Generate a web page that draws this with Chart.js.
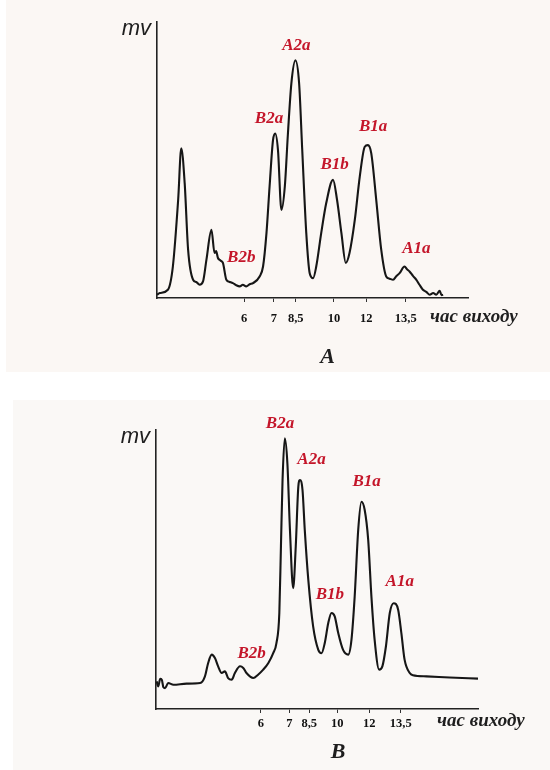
<!DOCTYPE html>
<html>
<head>
<meta charset="utf-8">
<script src="https://cdn.jsdelivr.net/npm/chart.js"></script>
<style>
  body { margin: 0; background: #fff; width: 550px; height: 770px; position: relative; overflow: hidden; }
  .panel { position: absolute; }
  #panelA { left: 6px; top: 0; width: 544px; height: 372px; background: #fbf7f4; }
  #panelB { left: 13px; top: 400px; width: 537px; height: 370px; background: #faf8f6; }
</style>
</head>
<body>
<div class="panel" id="panelA"><canvas id="chartA" width="544" height="372"></canvas></div>
<div class="panel" id="panelB"><canvas id="chartB" width="537" height="370"></canvas></div>
<script>
// tick labels (retention time, min) and where they sit along the axis (0..100)
const tickLabels = ['6', '7', '8,5', '10', '12', '13,5'];
const tickPosA = [28.0, 37.6, 44.6, 56.9, 67.3, 80.0];
const tickPosB = [32.6, 41.4, 47.6, 56.3, 66.2, 76.0];

// chromatogram A
const timeA = [0, 0.9, 3.5, 5.1, 6.8, 7.8, 8.9, 10.0, 11.6, 12.6, 13.7, 14.8, 15.9, 17.5, 18.5, 19.0, 19.6, 20.4, 21.2, 22.3,
  23.4, 24.4, 25.5, 26.6, 27.6, 28.7, 29.8, 30.9, 33.0, 34.1, 35.2, 36.2, 37.3, 38.0, 38.9, 40.0, 41.1, 42.1, 43.2, 44.5,
  45.7, 46.7, 48.0, 49.1, 50.2, 51.2, 52.8, 54.4, 56.6, 57.9, 59.3, 60.7, 61.9, 63.6, 65.2, 66.8, 67.8, 68.9, 70.5, 72.1,
  73.7, 74.8, 75.9, 77.0, 78.0, 79.6, 80.4, 81.2, 82.3, 83.4, 84.4, 85.5, 86.6, 87.7, 88.8, 89.8, 90.9, 91.5, 92.0];
const signalA = [1.2, 1.8, 3.0, 11.4, 35.5, 54.2, 41.6, 17.5, 6.6, 5.8, 4.8, 6.0, 13.9, 24.7, 16.3, 17.0, 14.5, 13.6, 12.7, 6.6,
  5.8, 5.4, 4.6, 4.2, 4.8, 4.2, 5.0, 5.4, 7.8, 11.4, 23.5, 40.4, 57.2, 59.6, 53.6, 31.9, 40.4, 59.6, 77.7, 86.1,
  77.7, 53.6, 23.5, 9.0, 7.2, 11.4, 23.5, 34.3, 42.8, 35.5, 23.5, 12.7, 16.3, 28.3, 44.0, 54.8, 55.4, 52.4, 35.5, 17.5,
  7.8, 7.0, 6.6, 8.0, 9.0, 11.4, 10.4, 9.6, 8.0, 6.6, 4.8, 3.0, 2.2, 1.2, 1.8, 1.2, 2.6, 1.0, 1.2];
const peakNamesA = ['A2a', 'B2a', 'B2b', 'B1b', 'B1a', 'A1a'];
const peakXA = [44.8, 36.0, 27.1, 57.1, 69.5, 83.4];
const peakYA = [91.6, 65.0, 14.5, 48.2, 62.0, 18.0];

// chromatogram B
const timeB = [0.2, 0.7, 1.3, 1.8, 2.3, 2.8, 3.8, 5.4, 9.5, 13.7, 15.2, 16.2, 17.3, 18.3, 19.3, 20.4, 21.4, 22.4, 23.5, 24.5,
  26.1, 27.1, 28.1, 30.2, 31.7, 33.3, 34.9, 36.4, 37.4, 38.3, 38.8, 39.3, 40.0, 40.8, 41.6, 42.6, 43.4, 44.2, 44.7, 45.5,
  46.2, 47.3, 48.8, 50.4, 51.4, 52.4, 53.5, 54.5, 55.5, 56.6, 58.1, 59.7, 60.7, 61.7, 62.8, 63.8, 64.8, 65.9, 66.9, 67.9,
  69.3, 70.3, 71.4, 72.6, 73.8, 75.2, 76.2, 77.2, 78.8, 79.8, 84.0, 91.2, 100];
const signalB = [9.9, 8.1, 10.8, 10.5, 7.8, 7.5, 9.3, 8.7, 9.1, 9.3, 11.7, 16.5, 19.5, 18.3, 15.3, 12.9, 13.5, 11.1, 10.5, 12.9,
  15.3, 14.7, 12.9, 11.1, 12.3, 14.1, 16.5, 20.0, 23.6, 34.4, 58.2, 82.1, 97.0, 88.1, 64.2, 43.3, 58.2, 79.7, 82.1, 78.5,
  64.2, 46.3, 29.6, 21.2, 20.0, 23.6, 30.8, 34.4, 33.2, 27.2, 21.2, 19.5, 24.8, 40.3, 64.2, 74.3, 71.4, 60.6, 40.3, 24.8,
  14.1, 15.3, 22.4, 34.4, 37.9, 35.6, 27.2, 17.7, 12.9, 12.1, 11.7, 11.3, 10.9];
const peakNamesB = ['B2a', 'A2a', 'B2b', 'B1b', 'B1a', 'A1a'];
const peakXB = [38.5, 48.3, 29.7, 54.0, 65.4, 75.7];
const peakYB = [102.4, 89.3, 20.0, 40.9, 81.5, 45.7];

const peakText = {
  id: 'peakText',
  afterDraw(chart, args, o) {
    const { ctx, chartArea: a, scales: { x, y } } = chart;
    ctx.save();
    ctx.textAlign = 'center';
    ctx.textBaseline = 'middle';
    ctx.fillStyle = '#c4162a';
    ctx.font = 'italic bold 17px "Liberation Serif"';
    o.names.forEach((n, i) => ctx.fillText(n, x.getPixelForValue(o.px[i]), y.getPixelForValue(o.py[i])));

    ctx.fillStyle = '#1e1e1e';
    ctx.textAlign = 'right';
    ctx.textBaseline = 'alphabetic';
    ctx.font = 'italic 22px "Liberation Sans"';
    ctx.fillText('mv', a.left - 6, a.top + 13);

    ctx.textAlign = 'left';
    ctx.textBaseline = 'middle';
    ctx.font = 'italic bold 19px "Liberation Serif"';
    ctx.fillText('час виходу', a.right + o.unitDx, a.bottom + o.unitDy);

    ctx.textAlign = 'center';
    ctx.font = 'italic bold 22px "Liberation Serif"';
    ctx.fillText(o.title, (a.left + a.right) / 2 + o.titleDx, a.bottom + o.titleDy);
    ctx.restore();
  }
};

function makeChart(id, time, signal, tickPos, pad, tickPad, text) {
  return new Chart(document.getElementById(id), {
    type: 'line',
    data: {
      datasets: [{
        data: time.map((t, i) => ({ x: t, y: signal[i] })),
        borderColor: '#161616',
        borderWidth: 2.1,
        pointRadius: 0,
        cubicInterpolationMode: 'monotone',
        fill: false
      }]
    },
    options: {
      responsive: false,
      animation: false,
      devicePixelRatio: 1,
      layout: { padding: pad },
      plugins: { legend: { display: false }, tooltip: { enabled: false }, peakText: text },
      scales: {
        x: {
          type: 'linear', min: 0, max: 100,
          afterFit(s) { s.height = 40; },
          afterBuildTicks(s) { s.ticks = tickPos.map(v => ({ value: v })); },
          grid: { display: true, drawOnChartArea: false, drawTicks: true, tickLength: 4, color: '#333' },
          border: { display: true, color: '#222', width: 1.6 },
          ticks: {
            autoSkip: false, maxRotation: 0, padding: tickPad, color: '#111',
            font: { family: 'Liberation Serif', size: 12.5, weight: 'bold' },
            callback(v) { const i = tickPos.indexOf(v); return i >= 0 ? tickLabels[i] : ''; }
          }
        },
        y: {
          min: 0, max: 100,
          afterFit(s) { s.width = 0; },
          grid: { display: false, drawTicks: false },
          border: { display: true, color: '#222', width: 1.6 },
          ticks: { display: false }
        }
      }
    },
    plugins: [peakText]
  });
}

makeChart('chartA', timeA, signalA, tickPosA,
  { left: 151, right: 82, top: 22, bottom: 34 }, 9,
  { names: peakNamesA, px: peakXA, py: peakYA, title: 'A', titleDx: 15, titleDy: 59, unitDx: -38, unitDy: 19 });

makeChart('chartB', timeB, signalB, tickPosB,
  { left: 143, right: 72, top: 30, bottom: 21 }, 3,
  { names: peakNamesB, px: peakXB, py: peakYB, title: 'B', titleDx: 21, titleDy: 43, unitDx: -41, unitDy: 12 });
</script>
</body>
</html>
